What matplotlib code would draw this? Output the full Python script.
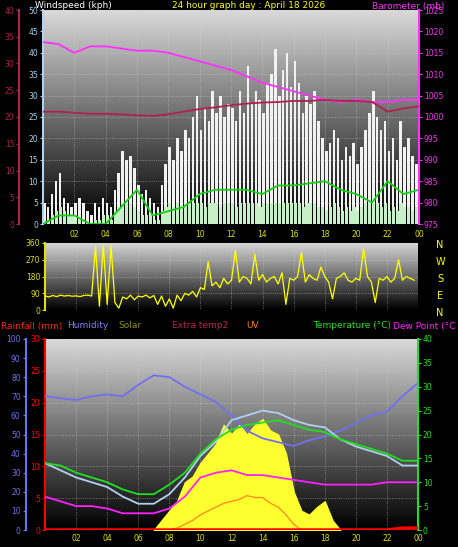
import matplotlib.pyplot as plt
import numpy as np

W, H = 458, 547

# ---- data ----
hours_h = np.arange(0, 24.5, 1.0)  # hourly points 0..24
barometer = [1017.5, 1017, 1015, 1016.5, 1016.5, 1016, 1015.5, 1015.5, 1015, 1014, 1013,
             1012, 1011, 1009.5, 1008, 1007, 1006, 1005, 1004, 1003.5, 1004, 1003.5,
             1003.5, 1004, 1004]
extra_temp = [21, 21, 20.8, 20.6, 20.6, 20.5, 20.3, 20.2, 20.5, 21, 21.5, 21.8, 22.2, 22.5,
              22.7, 22.8, 23, 23, 23.2, 23, 23, 22.8, 21, 21.6, 22]
wind_avg = [0, 2, 2, 0, 0, 4, 8, 2, 3, 4, 7, 8, 8, 8, 7, 9, 9, 9.5, 10, 8, 7, 5, 10, 7, 8]

hours_q = np.arange(0, 24, 0.25)  # 15 min points
gust = [5, 4, 7, 10, 12, 6, 5, 4, 5, 6, 5, 3, 2, 5, 4, 6,
        5, 4, 8, 12, 17, 15, 16, 13, 9, 7, 8, 6, 5, 4, 9, 14,
        18, 15, 20, 17, 22, 20, 25, 30, 22, 27, 24, 31, 26, 30, 25, 28,
        27, 24, 31, 26, 37, 28, 31, 29, 26, 33, 35, 41, 30, 36, 40, 32,
        38, 33, 26, 30, 28, 31, 24, 20, 17, 19, 22, 20, 15, 18, 16, 19,
        14, 18, 22, 26, 31, 25, 22, 24, 17, 20, 15, 24, 18, 20, 16, 14]
wind = [1, 1, 2, 3, 4, 3, 2, 2, 1, 1, 0, 0, 0, 1, 1, 2,
        2, 1, 3, 4, 5, 5, 5, 4, 3, 2, 2, 2, 1, 1, 3, 4,
        5, 4, 5, 4, 5, 5, 5, 5, 5, 4, 5, 5, 5, 4, 5, 5,
        5, 4, 5, 5, 5, 5, 5, 4, 5, 5, 5, 5, 5, 5, 5, 5,
        5, 5, 4, 5, 5, 5, 4, 4, 3, 4, 5, 4, 3, 4, 3, 4,
        3, 4, 5, 5, 5, 5, 4, 5, 3, 4, 3, 5, 4, 4, 3, 4]
direction = [75, 70, 78, 72, 80, 75, 78, 74, 76, 72, 78, 80, 75, 340, 20, 350,
             30, 345, 40, 10, 70, 60, 80, 55, 75, 70, 80, 65, 78, 30, 75, 20,
             60, 10, 80, 50, 90, 80, 100, 70, 120, 110, 260, 130, 150, 120, 170, 140,
             160, 320, 150, 180, 170, 140, 300, 160, 190, 150, 170, 180, 140, 200, 30, 170,
             160, 180, 310, 150, 190, 170, 160, 230, 180, 150, 60, 170, 180, 200, 160, 150,
             170, 160, 330, 180, 150, 40, 170, 160, 180, 150, 170, 270, 160, 180, 170, 160]

temperature = [14, 13.5, 12, 11, 10, 8.5, 7.5, 7.5, 9.5, 12, 16, 19, 21, 22, 22.5, 23,
               22, 21, 20.5, 19, 18, 17, 16, 14.5, 14.5]
feels_like = [14, 12.5, 11, 10, 9, 7, 5.5, 5.5, 7.5, 11, 15.5, 18.5, 23, 24, 25, 24.5,
              23, 22, 21.5, 19, 17.5, 16.5, 15.5, 13.5, 13.5]
humidity = [70, 69, 68, 70, 71, 70, 76, 81, 80, 75, 71, 67, 60, 52, 48, 46, 44, 47, 49,
            52, 56, 60, 62, 70, 77]
dew_point = [7, 6, 5, 5, 4.5, 3.5, 3.5, 3.5, 4.5, 7, 11, 12, 12.5, 11.5, 11.5, 11, 10.5,
             10, 9.5, 9.5, 9.5, 9.5, 10, 10, 10]
rainfall = [0] * 23 + [0.3, 0.3]

hours_s = np.arange(7, 19.5, 0.5)
solar = [0, 50, 100, 150, 250, 280, 350, 400, 450, 550, 500, 550, 500, 550, 580, 520,
         500, 400, 200, 100, 80, 120, 150, 50, 0]
uv = [0, 0, 0, 10, 30, 50, 80, 100, 120, 140, 150, 160, 180, 170, 170, 140, 120, 80, 30,
      0, 0, 0, 0, 0, 0]

xticks = [2, 4, 6, 8, 10, 12, 14, 16, 18, 20, 22, 24]
xlabels = ['02', '04', '06', '08', '10', '12', '14', '16', '18', '20', '22', '00']

fig = plt.figure(figsize=(W / 100, H / 100), dpi=100, facecolor='black')
fs = 5.5


def box(l, t, r, b):
    return [l / W, 1 - b / H, (r - l) / W, (b - t) / H]


def gradient(ax, lo, hi, top=0.85):
    g = np.linspace(top, 0.0, 100).reshape(-1, 1)
    ax.imshow(g, cmap='gray', vmin=0, vmax=1, aspect='auto',
              extent=[0, 24, lo, hi], zorder=0, origin='upper')
    ax.set_xlim(0, 24)
    ax.set_ylim(lo, hi)
    ax.grid(True, color='#d0d0d0', linestyle=':', linewidth=0.6, alpha=0.6)
    for s in ax.spines.values():
        s.set_visible(False)


def style_axis(ax, color, side='left', outward=0):
    ax.tick_params(axis='y', colors=color, labelsize=fs, length=2, pad=1.5)
    ax.spines[side].set_visible(True)
    ax.spines[side].set_color(color)
    ax.spines[side].set_linewidth(1.5)
    if outward:
        ax.spines[side].set_position(('outward', outward))


def hide(ax):
    for s in ax.spines.values():
        s.set_visible(False)


# ---- top panel ----
ax1 = fig.add_axes(box(43, 10, 419, 224))
gradient(ax1, 0, 50)
ax1.bar(hours_q, gust, width=0.16, align='edge', color='#f2f2f2', zorder=2)
ax1.bar(hours_q, wind, width=0.2, align='edge', color='#c8f0c8', zorder=3)
ax1.plot(hours_h, wind_avg, color='#10d010', lw=1.3, zorder=4)
ax1.set_yticks(range(0, 51, 5))
style_axis(ax1, '#b0d0f0')
ax1.set_xticks(xticks)
ax1.set_xticklabels(xlabels)
ax1.tick_params(axis='x', colors='#e0e000', labelsize=fs, length=0, pad=4)

axb = ax1.twinx()
axb.set_ylim(975, 1025)
axb.plot(hours_h, barometer, color='#ff30ff', lw=1.3, zorder=5)
hide(axb)
style_axis(axb, '#ff30ff', 'right')
axb.set_yticks(range(975, 1026, 5))

axe = ax1.twinx()
axe.yaxis.tick_left()
axe.set_ylim(0, 40)
axe.plot(hours_h, extra_temp, color='#b02050', lw=1.3, zorder=5)
hide(axe)
style_axis(axe, '#b02050', 'left', outward=17)
axe.set_yticks(range(0, 41, 5))

fig.text(35 / W, 1 - 6 / H, 'Windspeed (kph)', color='white', fontsize=6.5, va='center')
fig.text(172 / W, 1 - 6 / H, '24 hour graph day : April 18 2026', color='#ffff00',
         fontsize=6.5, va='center')
fig.text(372 / W, 1 - 6 / H, 'Barometer (mb)', color='#ff30ff', fontsize=6.5, va='center')

# ---- direction panel ----
ax2 = fig.add_axes(box(45, 243, 418, 310))
gradient(ax2, 0, 360)
ax2.plot(hours_q, direction, color='#ffff00', lw=0.9, zorder=3)
ax2.set_yticks([0, 90, 180, 270, 360])
style_axis(ax2, '#e0e000')
ax2.set_xticks(xticks)
ax2.set_xticklabels([])
ax2.tick_params(axis='x', length=0)
for i, c in enumerate('NWSEN'):
    fig.text(440 / W, 1 - (245 + i * 17) / H, c, color='#ffff00', fontsize=7,
             ha='center', va='center')

# ---- legend row ----
legend = [('Rainfall (mm)', '#ff2020', 1), ('Humidity', '#8080ff', 67),
          ('Solar', '#909020', 118), ('Extra temp2', '#c02050', 172),
          ('UV', '#ff8000', 246), ('Temperature (°C)', '#20e020', 313),
          ('Dew Point (°C', '#ff20ff', 393)]
for txt, col, x in legend:
    fig.text(x / W, 1 - 326 / H, txt, color=col, fontsize=6.5, va='center')

# ---- bottom panel ----
ax3 = fig.add_axes(box(45, 339, 418, 530))
gradient(ax3, 0, 30)
ax3.set_yticks(range(0, 31, 5))
style_axis(ax3, '#ff0000')
ax3.set_xticks(xticks)
ax3.set_xticklabels(xlabels)
ax3.tick_params(axis='x', colors='#e0e000', labelsize=fs, length=0, pad=3)

axs = ax3.twinx()
axs.set_ylim(0, 1000)
axs.fill_between(hours_s, solar, color='#ffff30', zorder=2)
axs.plot(hours_s, uv, color='#ff9020', lw=1.0, zorder=3)
axs.set_yticks([])
hide(axs)

axh = ax3.twinx()
axh.set_ylim(0, 100)
axh.plot(hours_h, humidity, color='#7070f0', lw=1.3, zorder=4)
axh.yaxis.tick_left()
hide(axh)
style_axis(axh, '#7070f0', 'left', outward=14)
axh.set_yticks(range(0, 101, 10))

axt = ax3.twinx()
axt.set_ylim(0, 40)
axt.plot(hours_h, feels_like, color='#b0d0f0', lw=1.3, zorder=4)
axt.plot(hours_h, temperature, color='#20e020', lw=1.3, zorder=5)
axt.plot(hours_h, dew_point, color='#ff20ff', lw=1.3, zorder=5)
hide(axt)
style_axis(axt, '#20e020', 'right')
axt.set_yticks(range(0, 41, 5))

axr = ax3.twinx()
axr.set_ylim(0, 30)
axr.plot(hours_h, rainfall, color='#ff0000', lw=2.5, zorder=6)
axr.set_yticks([])
hide(axr)

fig.savefig('out.png', dpi=100, facecolor='black')
